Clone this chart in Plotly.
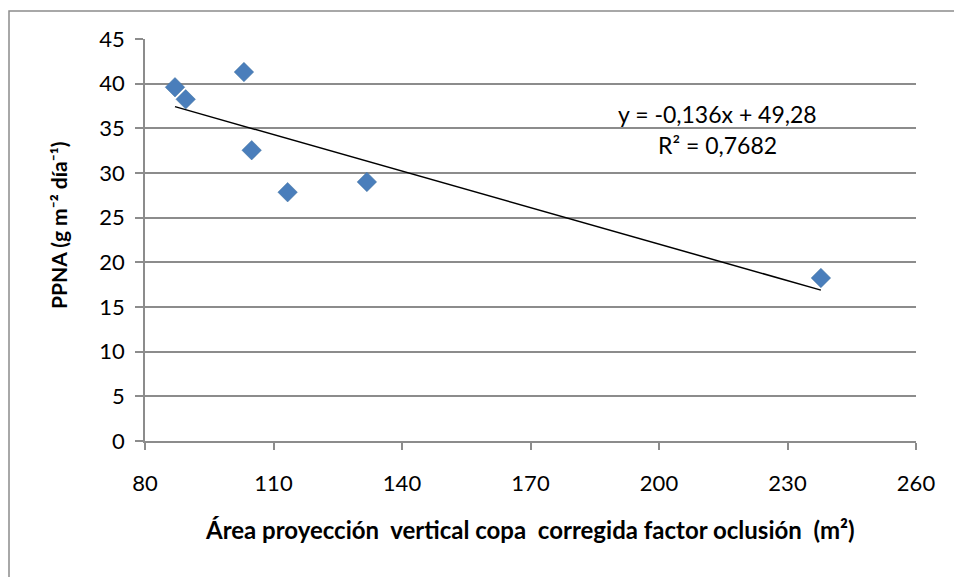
import numpy as np
import plotly.graph_objects as go

# Data
area = [87.0, 89.5, 103.1, 104.9, 113.3, 131.8, 237.8]
ppna = [39.6, 38.25, 41.3, 32.55, 27.85, 29.0, 18.25]
x_ticks = [80, 110, 140, 170, 200, 230, 260]
y_ticks = [0, 5, 10, 15, 20, 25, 30, 35, 40, 45]
eq_text = "y = -0,136x + 49,28"
r2_text = "R² = 0,7682"
x_title = "Área proyección  vertical copa  corregida factor oclusión  (m²)"
y_title = "PPNA (g m⁻² día⁻¹)"

FONT = "Lato"
W, H = 954, 577
L, R, T, B = 145, 38, 39, 136
pw, ph = W - L - R, H - T - B

slope, intercept = np.polyfit(area, ppna, 1)
xf = np.array([min(area), max(area)])
yf = slope * xf + intercept

fig = go.Figure()
fig.add_trace(go.Scatter(
    x=xf, y=yf, mode="lines",
    line=dict(color="black", width=1.5),
    hoverinfo="skip", showlegend=False))
fig.add_trace(go.Scatter(
    x=area, y=ppna, mode="markers",
    marker=dict(symbol="diamond", size=15, color="#4A7EBB",
                line=dict(color="#41719C", width=0.5)),
    showlegend=False))

grid = "#8C8C8C"
fig.update_layout(
    width=W, height=H,
    margin=dict(l=L, r=R, t=T, b=B),
    paper_bgcolor="white", plot_bgcolor="white",
    font=dict(family=FONT, size=22, color="black"),
    xaxis=dict(range=[80, 260], tickvals=x_ticks, showgrid=False,
               zeroline=False, showline=True, linecolor=grid, linewidth=1.5,
               ticks="outside", ticklen=7, tickcolor=grid, tickwidth=1.5,
               ticklabelstandoff=15, tickfont=dict(family=FONT, size=22)),
    yaxis=dict(range=[0, 45], tickvals=y_ticks, showgrid=True,
               gridcolor=grid, gridwidth=1.5, zeroline=False,
               showline=True, linecolor=grid, linewidth=1.5,
               ticks="outside", ticklen=8, tickcolor=grid, tickwidth=1.5,
               ticklabelstandoff=6, tickfont=dict(family=FONT, size=22)),
)

def px_x(p):
    return (p - L) / pw

def px_y(p):
    return (H - B - p) / ph

# chart-area border
fig.add_shape(type="rect", xref="paper", yref="paper",
              x0=px_x(9), x1=px_x(W + 10), y0=px_y(H + 10), y1=px_y(11),
              line=dict(color="#8C8C8C", width=1.5), layer="below")

fig.add_annotation(x=px_x(717), y=px_y(114), xref="paper", yref="paper",
                   text=eq_text, showarrow=False,
                   font=dict(family=FONT, size=23), xanchor="center", yanchor="middle")
fig.add_annotation(x=px_x(717), y=px_y(145), xref="paper", yref="paper",
                   text=r2_text, showarrow=False,
                   font=dict(family=FONT, size=23), xanchor="center", yanchor="middle")
fig.add_annotation(x=px_x(530), y=px_y(529), xref="paper", yref="paper",
                   text="<b>" + x_title + "</b>", showarrow=False,
                   font=dict(family=FONT, size=24), xanchor="center", yanchor="middle")
fig.add_annotation(x=px_x(58), y=px_y(225), xref="paper", yref="paper",
                   text="<b>" + y_title + "</b>", showarrow=False, textangle=-90,
                   font=dict(family=FONT, size=21), xanchor="center", yanchor="middle")

fig.write_html("out.html")
